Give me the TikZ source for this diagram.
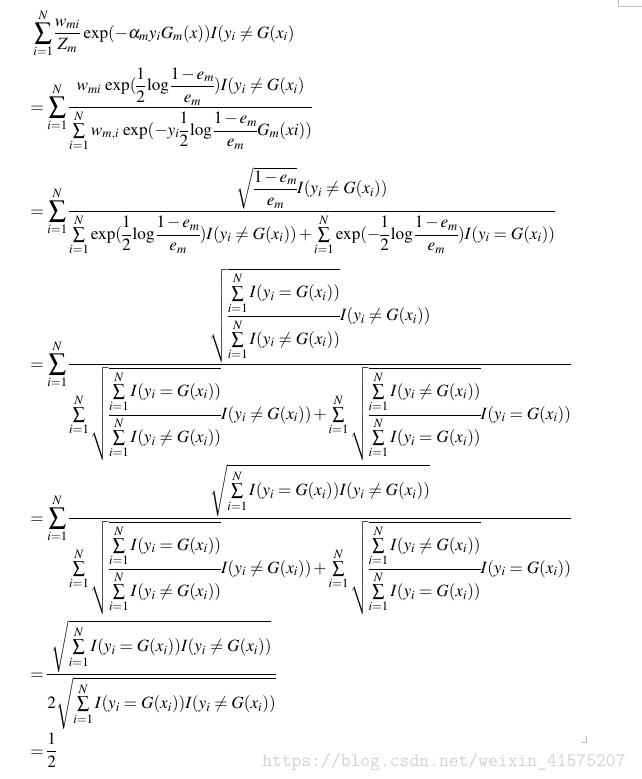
\documentclass[tikz,border=0pt]{standalone}
\usepackage{amsmath}
\usepackage{mathptmx}
\usetikzlibrary{positioning}
\newcommand{\Ieq}{I(y_i=G(x_i))}
\newcommand{\Ine}{I(y_i\neq G(x_i))}
\newcommand{\Sm}{\sum\limits_{i=1}^{N}}
\newcommand{\tight}{\thinmuskip=2mu\medmuskip=2mu minus 1mu\thickmuskip=4mu minus 1mu\nulldelimiterspace=0pt}
\tikzset{
  eqline/.style={anchor=base west, inner sep=0pt, font=\fontsize{12.9}{16}\selectfont\tight},
  pagemark/.style={draw=gray!50, line width=.6pt}
}
\begin{document}
\begin{tikzpicture}[x=0.75pt, y=-0.75pt]
      \useasboundingbox (0,0) rectangle (642,779);
      \node[eqline] (l1) at (33, 38) {\(\displaystyle \Sm\frac{w_{mi}}{Z_m}\,\exp(-\alpha_m y_i G_m(x))I(y_i\neq G(x_i)\)};
      \node[eqline] (l2) at (30, 112) {\(\displaystyle =\Sm\frac{w_{mi}\,\exp(\dfrac{1}{2}\log\dfrac{1-e_m}{e_m})I(y_i\neq G(x_i)}{\Sm w_{m,i}\,\exp(-y_i\dfrac{1}{2}\log\dfrac{1-e_m}{e_m}G_m(xi))}\)};
      \node[eqline] (l3) at (30, 216) {\(\displaystyle =\Sm\frac{\sqrt{\dfrac{1-e_m}{e_m}}\Ine}{\Sm\exp(\dfrac{1}{2}\log\dfrac{1-e_m}{e_m})\Ine+\Sm\exp(-\dfrac{1}{2}\log\dfrac{1-e_m}{e_m})\Ieq}\)};
      \node[eqline] (l4) at (30, 369) {\(\displaystyle =\Sm\frac{\sqrt{\dfrac{\Sm\Ieq}{\Sm\Ine}}\Ine}{\Sm\sqrt{\dfrac{\Sm\Ieq}{\Sm\Ine}}\Ine+\Sm\sqrt{\dfrac{\Sm\Ine}{\Sm\Ieq}}\Ieq}\)};
      \node[eqline] (l5) at (30, 523) {\(\displaystyle =\Sm\frac{\sqrt{\Sm\Ieq\Ine}}{\Sm\sqrt{\dfrac{\Sm\Ieq}{\Sm\Ine}}\Ine+\Sm\sqrt{\dfrac{\Sm\Ine}{\Sm\Ieq}}\Ieq}\)};
      \node[eqline] (l6) at (30, 679) {\(\displaystyle =\frac{\sqrt{\Sm\Ieq\Ine}}{2\sqrt{\Sm\Ieq\Ine}}\)};
      \node[eqline] (l7) at (30, 756) {\(\displaystyle =\frac{1}{2}\)};
      % watermark and page marks
      \node[anchor=base west, inner sep=0pt, text=gray!35, font=\fontsize{14.3}{16}\ttfamily] (wm) at (262, 766) {https://blog.csdn.net/weixin\_41575207};
      \draw[pagemark] (586, 736) -- (586, 742) -- (581, 742);
      \draw[pagemark] (618, 0) -- (618, 6) -- (642, 6);
\end{tikzpicture}
\end{document}
